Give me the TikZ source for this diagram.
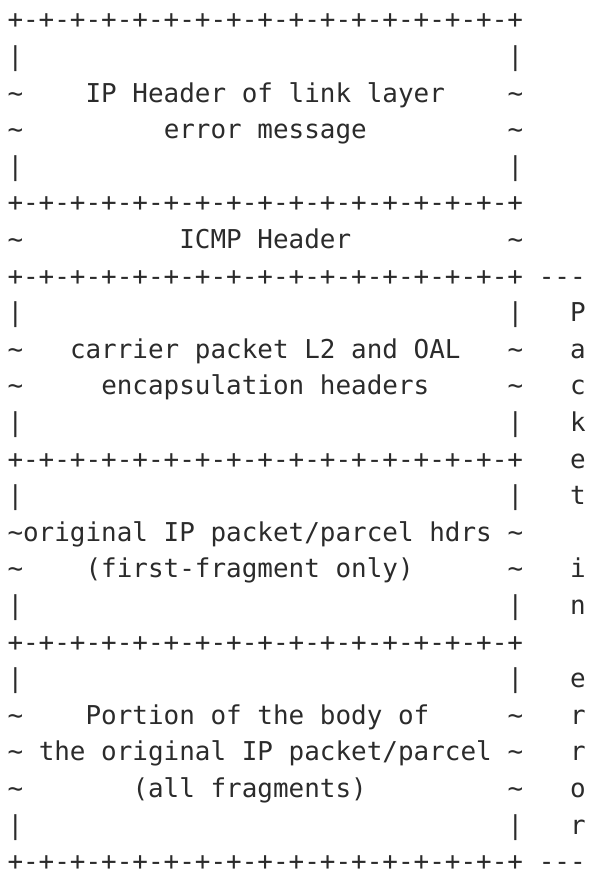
\documentclass[tikz,border=0pt]{standalone}
\usepackage{fontspec}
\newfontfamily\asciifont{DejaVu Sans Mono}[Ligatures=TeXOff]
\definecolor{inkgray}{HTML}{2B2B2B}
\newcommand{\tld}{\textasciitilde}
\newcommand{\bordertext}{+-+-+-+-+-+-+-+-+-+-+-+-+-+-+-+-+}
\tikzset{
  ascii/.style={inner sep=0pt, outer sep=0pt, anchor=base west, text=inkgray,
    font=\asciifont\fontsize{25.95pt}{36.6pt}\selectfont},
  edgechar/.style={ascii},
  label/.style={ascii},
}
\begin{document}
\begin{tikzpicture}
\useasboundingbox (0pt,0pt) rectangle (589pt,-878pt);
\begin{scope}[x=15.625pt, y=-36.6pt, shift={(0.48,0.787)}]
% borders
\foreach \k/\nm in {0/b1,5/b2,7/b3,12/b4,17/b5,23/b6}
  \node[ascii] (\nm) at (0,\k) {\bordertext};
% vertical bar rows
\foreach \k in {1,4,8,11,13,16,18,22} {
  \node[edgechar] (l\k) at (0,\k) {|};
  \node[edgechar] (r\k) at (32,\k) {|};
}
% tilde rows
\foreach \k in {2,3,6,9,10,14,15,19,20,21} {
  \node[edgechar] (l\k) at (0,\k) {\tld};
  \node[edgechar] (r\k) at (32,\k) {\tld};
}
% texts
\node[label] (t2)  at (5,2)  {IP Header of link layer};
\node[label] (t3)  at (10,3) {error message};
\node[label] (t6)  at (11,6) {ICMP Header};
\node[label] (t9)  at (4,9)  {carrier packet L2 and OAL};
\node[label] (t10) at (6,10) {encapsulation headers};
\node[label] (t14) at (1,14) {original IP packet/parcel hdrs};
\node[label] (t15) at (5,15) {(first-fragment only)};
\node[label] (t19) at (5,19) {Portion of the body of};
\node[label] (t20) at (2,20) {the original IP packet/parcel};
\node[label] (t21) at (8,21) {(all fragments)};
% bracket marks
\node[ascii] (d1) at (34,7)  {---};
\node[ascii] (d2) at (34,23) {---};
% vertical caption
\foreach \k/\c in {8/P,9/a,10/c,11/k,12/e,13/t,15/i,16/n,18/e,19/r,20/r,21/o,22/r}
  \node[ascii] (v\k) at (36,\k) {\c};
\end{scope}
\end{tikzpicture}
\end{document}
